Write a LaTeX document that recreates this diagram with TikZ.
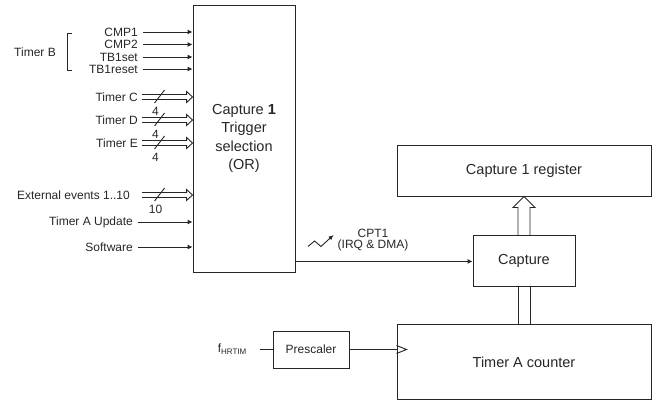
\documentclass[tikz,border=0pt]{standalone}
\usepackage{fontspec}
\setmainfont{Liberation Sans}
\usetikzlibrary{positioning, arrows.meta, calc}
\tikzset{
  block/.style={rectangle, draw=black!85, line width=0.9pt, text=black!85, font=\fontsize{14.5}{18.5}\selectfont, align=center, inner sep=0pt},
  inlabel/.style={anchor=east, inner sep=2pt, text=black!85, font=\fontsize{12}{13}\selectfont},
  sig/.style={line width=0.9pt, draw=black!85, -{Latex[length=5pt,width=5pt]}},
  wire/.style={line width=0.9pt, draw=black!85}
}
\begin{document}
\begin{tikzpicture}[x=1pt, y=-1pt]
  \useasboundingbox (0,0) rectangle (660,401);
  % selection block
  \node (trig1) [block, minimum width=102pt, minimum height=267pt] at (244,138.5) {Capture \textbf{1}\\Trigger\\selection\\(OR)};
  % capture path
  \node (reg1) [block, minimum width=254pt, minimum height=51pt] at (524,170.5) {Capture 1 register};
  \node (cap1) [block, minimum width=102pt, minimum height=51pt, below=39pt of reg1] {Capture};
  \node (cnt1) [block, minimum width=254pt, minimum height=75pt, below=37pt of cap1] {Timer A counter};
  \node (pre1) [block, minimum width=76pt, minimum height=37pt, font=\fontsize{12}{13}\selectfont] at (311,349.5) {Prescaler};

  % single inputs
  \foreach \nm/\txt/\yy/\xx/\gp in {cmp1/CMP1/32/140/3, cmp2/CMP2/44.5/140/3, tbs1/TB1set/57/140/3, tbr1/TB1reset/69/140/3, tau1/Timer A Update/222/135/3, sw1/Software/247/135/3} {
    \node (\nm) [inlabel] at (\xx,\yy) {\txt};
    \draw [sig] ([xshift=\gp pt]\nm.east) -- (\nm.east -| trig1.west);
  }
  \node (timb1) [inlabel, anchor=center] at (35,52) {Timer B};
  \draw [wire] (72,33) -- (67,33) -- (67,70) -- (72,70);

  % bus inputs
  \foreach \nm/\txt/\yy/\xx/\gp/\bw in {tmc1/Timer C/97/140/2/4, tmd1/Timer D/120/140/2/4, tme1/Timer E/143/140/2/4, ext1/External events 1..10/195/132/10/10} {
    \node (\nm) [inlabel] at (\xx,\yy) {\txt};
    \coordinate (\nm-in) at (\nm.east -| trig1.west);
    \draw [wire] ([xshift=\gp pt,yshift=2.5pt]\nm.east) -- ([xshift=-6pt,yshift=2.5pt]\nm-in) -- ([xshift=-6pt,yshift=5.5pt]\nm-in) -- (\nm-in)
      -- ([xshift=-6pt,yshift=-5.5pt]\nm-in) -- ([xshift=-6pt,yshift=-2.5pt]\nm-in) -- ([xshift=\gp pt,yshift=-2.5pt]\nm.east);
    \draw [wire] ([xshift=-38pt,yshift=-6pt]\nm-in) -- ([xshift=-28pt,yshift=7pt]\nm-in);
    \node [inlabel, anchor=center] at ([xshift=-37pt,yshift=-14pt]\nm-in) {\bw};
  }

  % capture event
  \draw [sig] (trig1.east |- cap1.west) -- (cap1.west);
  \node (cpt1) [inlabel, anchor=center, align=center, font=\fontsize{12}{11.5}\selectfont] at (373,240) {CPT1\\(IRQ \& DMA)};
  \draw [sig, -{Latex[length=5pt,width=4.5pt]}] (308,246.5) -- (314.5,241) -- (321,246.5) -- (333.5,235);

  % capture to register
  \draw [wire] ([xshift=-6pt]cap1.north) -- ([xshift=-6pt,yshift=-11pt]reg1.south) -- ([xshift=-11pt,yshift=-11pt]reg1.south) -- (reg1.south)
    -- ([xshift=11pt,yshift=-11pt]reg1.south) -- ([xshift=6pt,yshift=-11pt]reg1.south) -- ([xshift=6pt]cap1.north);
  \draw [wire] ([xshift=-6pt]cap1.south) -- ([xshift=-6pt]cap1.south |- cnt1.north);
  \draw [wire] ([xshift=6pt]cap1.south) -- ([xshift=6pt]cap1.south |- cnt1.north);

  % clock
  \node (fclk1) [inlabel] at (249,349.5) {f\textsubscript{HRTIM}};
  \draw [wire] ([xshift=11pt]fclk1.east) -- (pre1.west);
  \coordinate (clk1) at (pre1.east -| cnt1.west);
  \draw [wire] (pre1.east) -- (clk1);
  \draw [wire] ([yshift=4pt]clk1) -- ([xshift=10pt]clk1) -- ([yshift=-4pt]clk1);
\end{tikzpicture}
\end{document}
